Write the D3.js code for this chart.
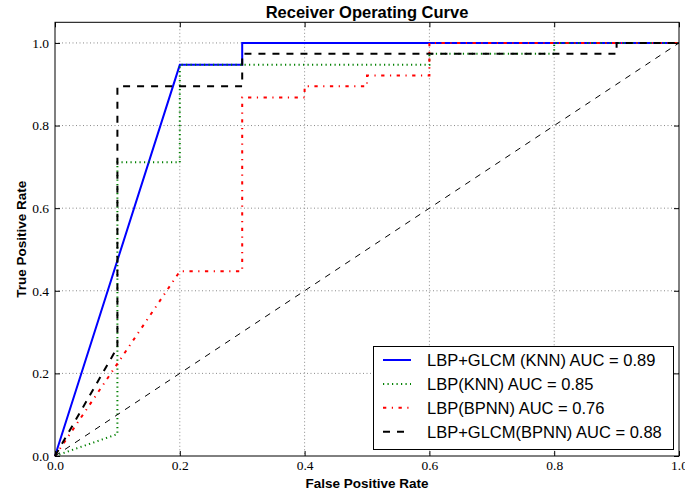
<!DOCTYPE html>
<html>
<head>
<meta charset="utf-8">
<script src="https://d3js.org/d3.v7.min.js"></script>
<style>
  body { margin: 0; background: #fff; }
  .tick text { font-family: "Liberation Serif", serif; font-size: 13.5px; fill: #000; }
</style>
</head>
<body>
<script>
// ROC points (false positive rate / true positive rate)
var fprKnnGlcm = [0, 0.2, 0.3, 0.3, 1.0];
var tprKnnGlcm = [0, 0.947, 0.947, 1.0, 1.0];

var fprKnn = [0, 0.1, 0.1, 0.2, 0.2, 0.6, 0.6, 0.8, 0.8, 1.0];
var tprKnn = [0, 0.053, 0.711, 0.711, 0.947, 0.947, 0.974, 0.974, 1.0, 1.0];

var fprBpnn = [0, 0.2, 0.3, 0.3, 0.4, 0.4, 0.5, 0.5, 0.6, 0.6, 1.0];
var tprBpnn = [0, 0.447, 0.447, 0.868, 0.868, 0.895, 0.895, 0.921, 0.921, 1.0, 1.0];

var fprBpnnGlcm = [0, 0.1, 0.1, 0.3, 0.3, 0.9, 0.9, 1.0];
var tprBpnnGlcm = [0, 0.263, 0.895, 0.895, 0.974, 0.974, 1.0, 1.0];

var seriesNames = ["LBP+GLCM (KNN) AUC = 0.89", "LBP(KNN) AUC = 0.85",
                   "LBP(BPNN) AUC = 0.76", "LBP+GLCM(BPNN) AUC = 0.88"];
var xTicks = [0, 0.2, 0.4, 0.6, 0.8, 1.0];
var yTicks = [0, 0.2, 0.4, 0.6, 0.8, 1.0];

var w = 685, h = 496;
var mLeft = 55, mRight = 679, mTop = 22.3, mBottom = 456;

var svg = d3.select("body").append("svg").attr("width", w).attr("height", h);

var x = d3.scaleLinear().domain([0, 1]).range([mLeft, mRight]);
var y = d3.scaleLinear().domain([0, 1.05]).range([mBottom, mTop]);

// grid
var grid = svg.append("g");
grid.selectAll(".gx").data(xTicks.slice(1, -1)).enter().append("line")
    .attr("x1", function(d){ return x(d); }).attr("x2", function(d){ return x(d); })
    .attr("y1", mTop).attr("y2", mBottom)
    .attr("stroke", "#8a8a8a").attr("stroke-width", 1).attr("stroke-dasharray", "1,2.5");
grid.selectAll(".gy").data(yTicks.slice(1)).enter().append("line")
    .attr("x1", mLeft).attr("x2", mRight)
    .attr("y1", function(d){ return y(d); }).attr("y2", function(d){ return y(d); })
    .attr("stroke", "#8a8a8a").attr("stroke-width", 1).attr("stroke-dasharray", "1,2.5");

var styles = [
  { color: "#0000ff", dash: null, width: 2 },
  { color: "#008000", dash: "1.2,3.3", width: 2 },
  { color: "#ff0000", dash: "3.3,5.5,1.2,5.5", width: 2 },
  { color: "#000000", dash: "7,7", width: 2 }
];
var allSeries = [
  [fprKnnGlcm, tprKnnGlcm],
  [fprKnn, tprKnn],
  [fprBpnn, tprBpnn],
  [fprBpnnGlcm, tprBpnnGlcm]
];

var line = d3.line().x(function(d){ return x(d[0]); }).y(function(d){ return y(d[1]); });

allSeries.forEach(function(s, i) {
  var pts = d3.zip(s[0], s[1]);
  svg.append("path")
     .attr("d", line(pts))
     .attr("fill", "none")
     .attr("stroke", styles[i].color)
     .attr("stroke-width", styles[i].width)
     .attr("stroke-dasharray", styles[i].dash);
});

// chance diagonal
svg.append("path")
   .attr("d", line([[0, 0], [1, 1]]))
   .attr("fill", "none").attr("stroke", "#000").attr("stroke-width", 1)
   .attr("stroke-dasharray", "6,6");

// axes (inward ticks on all sides)
var fmt = d3.format(".1f");
svg.append("g").attr("transform", "translate(0," + mBottom + ")")
   .call(d3.axisBottom(x).tickValues(xTicks).tickFormat(fmt).tickSizeInner(-5).tickSizeOuter(0).tickPadding(4));
svg.append("g").attr("transform", "translate(" + mLeft + ",0)")
   .call(d3.axisLeft(y).tickValues(yTicks).tickFormat(fmt).tickSizeInner(-5).tickSizeOuter(0).tickPadding(6));
svg.append("g").attr("transform", "translate(0," + mTop + ")")
   .call(d3.axisTop(x).tickValues(xTicks).tickFormat("").tickSizeInner(-5).tickSizeOuter(0));
svg.append("g").attr("transform", "translate(" + mRight + ",0)")
   .call(d3.axisRight(y).tickValues(yTicks).tickFormat("").tickSizeInner(-5).tickSizeOuter(0));
svg.selectAll(".domain").remove();
svg.selectAll(".tick line").attr("stroke", "#000");

svg.append("rect").attr("x", mLeft).attr("y", mTop)
   .attr("width", mRight - mLeft).attr("height", mBottom - mTop)
   .attr("fill", "none").attr("stroke", "#000").attr("stroke-width", 1);

// titles
svg.append("text").attr("x", (mLeft + mRight) / 2).attr("y", 17.5)
   .attr("text-anchor", "middle").attr("font-family", "Liberation Sans, Arial, sans-serif")
   .attr("font-weight", "bold").attr("font-size", "16.5px").text("Receiver Operating Curve");
svg.append("text").attr("x", (mLeft + mRight) / 2).attr("y", 488)
   .attr("text-anchor", "middle").attr("font-family", "Liberation Sans, Arial, sans-serif")
   .attr("font-weight", "bold").attr("font-size", "13.5px").text("False Positive Rate");
svg.append("text").attr("transform", "translate(26," + (mTop + mBottom) / 2 + ") rotate(-90)")
   .attr("text-anchor", "middle").attr("font-family", "Liberation Sans, Arial, sans-serif")
   .attr("font-weight", "bold").attr("font-size", "13.5px").text("True Positive Rate");

// legend
var lg = svg.append("g");
lg.append("rect").attr("x", 373.5).attr("y", 346.5).attr("width", 300).attr("height", 103)
  .attr("fill", "#fff").attr("stroke", "#000").attr("stroke-width", 1);
seriesNames.forEach(function(name, i) {
  var cy = 360 + i * 23.9;
  lg.append("line").attr("x1", 383).attr("x2", 411).attr("y1", cy).attr("y2", cy)
    .attr("stroke", styles[i].color).attr("stroke-width", styles[i].width)
    .attr("stroke-dasharray", styles[i].dash);
  lg.append("text").attr("x", 427).attr("y", cy).attr("dy", "0.36em")
    .attr("font-family", "Liberation Sans, Arial, sans-serif").attr("font-size", "16.5px")
    .text(name);
});
</script>
</body>
</html>
